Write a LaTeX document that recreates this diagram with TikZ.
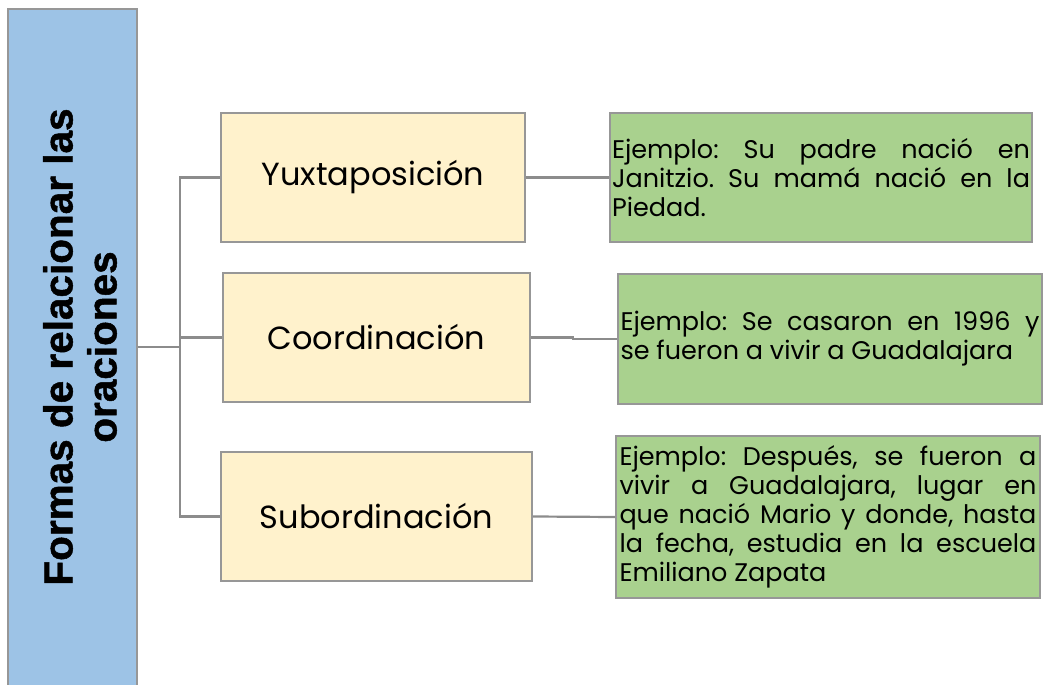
\documentclass[tikz,border=0pt]{standalone}
\usepackage{fontspec}
\setmainfont{Poppins}
\newfontfamily\titlefont{Liberation Sans Bold}[FakeBold=1.2]
\definecolor{blueF}{HTML}{9DC3E6}
\definecolor{yelF}{HTML}{FFF2CC}
\definecolor{greF}{HTML}{A9D18E}
\definecolor{bordG}{HTML}{979797}
\definecolor{lineG}{HTML}{8C8C8C}
\frenchspacing
\tikzset{
  box/.style={draw=bordG, line width=1.6pt, inner sep=0pt},
  ybox/.style={box, fill=yelF, font=\fontsize{32}{36}\selectfont},
  gbox/.style={box, fill=greF, font=\fontsize{25.5}{29}\selectfont, align=justify, text width=#1},
  conn/.style={draw=lineG, line width=2.2pt},
}
\begin{document}
\begin{tikzpicture}[x=1pt,y=-1pt]
\clip (0,0) rectangle (1045,685);
\node[box, fill=blueF, minimum width=129pt, minimum height=700pt] (blue) at (72.5,359) {};
\node[rotate=90, font=\titlefont\fontsize{40.5}{44}\selectfont, align=center] (title) at (80,347) {Formas de relacionar las\\oraciones};
\node[ybox, minimum width=304pt, minimum height=129pt] (yux) at (373,177.5) {Yuxtaposición};
\node[ybox, minimum width=307pt, minimum height=129pt] (coord) at (376.5,337.5) {Coordinación};
\node[ybox, minimum width=311pt, minimum height=129pt] (sub) at (376.5,516.5) {Subordinación};
\node[gbox=418pt, minimum width=422pt, minimum height=129pt] (g1) at (821,177.5) {Ejemplo: Su padre nació en\linebreak Janitzio. Su mamá nació en la\linebreak Piedad.};
\node[gbox=419pt, minimum width=424pt, minimum height=130pt] (g2) at (830,339) {Ejemplo: Se casaron en 1996 y\linebreak se fueron a vivir a Guadalajara};
\node[gbox=417pt, minimum width=424pt, minimum height=162pt] (g3) at (828,517) {Ejemplo: Después, se fueron a\linebreak vivir a Guadalajara, lugar en\linebreak que nació Mario y donde, hasta\linebreak la fecha, estudia en la escuela\linebreak Emiliano Zapata};
\coordinate (j) at (180,347);
\draw[conn] (blue.east |- j) -- (j);
\draw[conn] (yux.west) -| (j);
\draw[conn] (sub.west) -| (j);
\draw[conn] (coord.west) -- (coord.west -| j);
\draw[conn] (yux.east) -- (g1.west);
\draw[conn] (coord.east) -- ++(42,0) |- (g2.west);
\draw[conn] (sub.east) -- (g3.west);
\end{tikzpicture}
\end{document}
